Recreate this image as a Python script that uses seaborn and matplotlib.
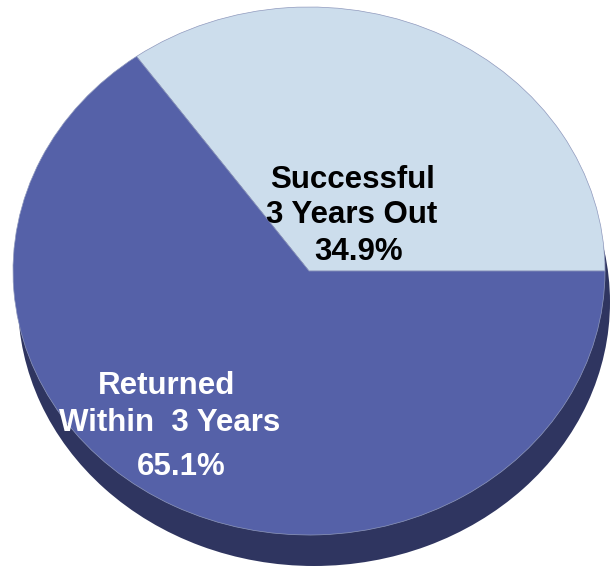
import matplotlib.pyplot as plt
import seaborn as sns

# slice data
categories = ['Successful 3 Years Out', 'Returned Within 3 Years']
shares = [34.9, 65.1]
colors = ['#CCDDEC', '#5561A8']
shadow_color = '#2F3560'

# label lines (text, pixel x, pixel y) for each slice
label_lines = [
    [('Successful', 353, 180), ('3 Years Out', 352, 215), ('34.9%', 359, 252)],
    [('Returned', 167, 386), ('Within  3 Years', 170, 423), ('65.1%', 181, 467)],
]
label_colors = ['black', 'white']

sns.set_style('white')
plt.rcParams['font.family'] = ['Liberation Sans', 'DejaVu Sans']

W, H = 612, 569
fig = plt.figure(figsize=(W / 100, H / 100), dpi=100)
ax = fig.add_axes([0, 0, 1, 1])

# pie centre and radii in pixels
cx, cy, rx, ry = 309, 271, 296, 264

# extruded shadow under the pie
ax.pie([1], colors=[shadow_color], radius=1, center=(5 / rx, -31 / ry),
       wedgeprops=dict(linewidth=0))
ax.pie(shares, colors=colors, startangle=0, counterclock=True, radius=1,
       wedgeprops=dict(linewidth=0.5, edgecolor='#8F99BD'))

ax.set_aspect('auto')
ax.set_xlim((0 - cx) / rx, (W - cx) / rx)
ax.set_ylim(-(H - cy) / ry, cy / ry)
ax.axis('off')

for lines, col in zip(label_lines, label_colors):
    for txt, x, y in lines:
        fig.text(x / W, 1 - y / H, txt, ha='center', va='center',
                 fontsize=22.5, fontweight='bold', color=col)

fig.savefig('out.png', dpi=100)
